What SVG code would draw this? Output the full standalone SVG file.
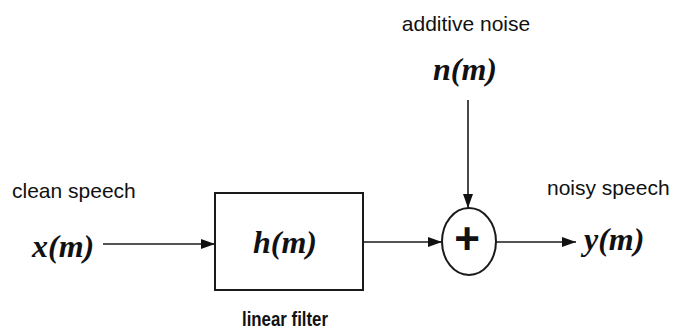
<svg xmlns="http://www.w3.org/2000/svg" width="680" height="329" viewBox="0 0 680 329">
<defs>
<style>
.lbl{font-family:"Liberation Sans",Arial,sans-serif;font-size:21px;fill:#111}
.math{font-family:"Liberation Serif","Times New Roman",serif;font-style:italic;font-weight:bold;font-size:32px;fill:#111}
.ln{stroke:#1a1a1a;stroke-width:1.6;fill:none}
.shape{stroke:#1a1a1a;stroke-width:2;fill:#fff}
</style>
<marker id="arr" viewBox="0 0 14 10" refX="14" refY="5" markerWidth="14" markerHeight="10" markerUnits="userSpaceOnUse" orient="auto">
<path d="M0,0 L14,5 L0,10 Z" fill="#111"/>
</marker>
</defs>
<rect width="680" height="329" fill="#fff"/>
<g id="connectors">
<line class="ln" x1="103" y1="244" x2="215" y2="244" marker-end="url(#arr)"/>
<line class="ln" x1="363" y1="242" x2="442" y2="242" marker-end="url(#arr)"/>
<line class="ln" x1="468" y1="100" x2="468" y2="208" marker-end="url(#arr)"/>
<line class="ln" x1="496" y1="242" x2="576" y2="242" marker-end="url(#arr)"/>
</g>
<g id="input">
<text class="lbl" x="12" y="198">clean speech</text>
<text class="math" x="32" y="257">x(m)</text>
</g>
<g id="filter">
<rect class="shape" x="215" y="193" width="148" height="97"/>
<text class="math" x="285" y="253" text-anchor="middle">h(m)</text>
<text class="lbl" x="285" y="326" text-anchor="middle" font-weight="bold" textLength="86" lengthAdjust="spacingAndGlyphs">linear filter</text>
</g>
<g id="noise">
<text class="lbl" x="466" y="31" text-anchor="middle">additive noise</text>
<text class="math" x="465" y="80" text-anchor="middle">n(m)</text>
</g>
<g id="sum">
<ellipse class="shape" cx="469" cy="241.5" rx="27" ry="33.5"/>
<text x="467" y="253.5" text-anchor="middle" font-family="Liberation Sans, Arial, sans-serif" font-weight="bold" font-size="44" fill="#111">+</text>
</g>
<g id="output">
<text class="lbl" x="547" y="195">noisy speech</text>
<text class="math" x="584" y="250">y(m)</text>
</g>
</svg>
